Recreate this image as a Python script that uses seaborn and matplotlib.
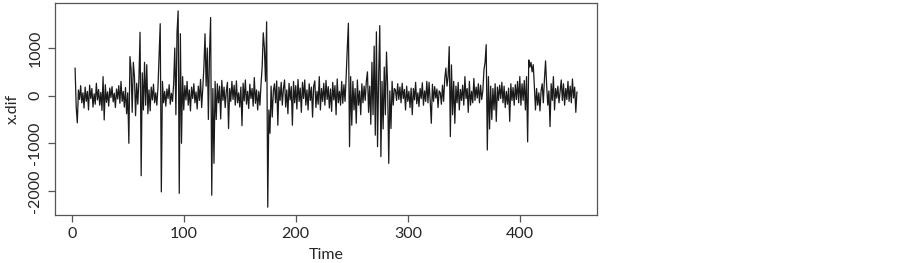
import matplotlib
matplotlib.use("Agg")
import matplotlib.pyplot as plt
import numpy as np
import pandas as pd
import seaborn as sns

# differenced series (first point at t = 3)
x_dif = [
    580, -240, -570, 120, -80, 210, -150, 60, -260, 180,
    -120, 90, -300, 220, -60, 150, -240, 40, -180, 260,
    -90, 130, -200, 70, -310, 400, -510, 230, -140, 80,
    -220, 160, -40, 190, -130, 50, -250, 140, -70, 210,
    -160, 300, -120, 90, -240, 170, -380, 60,
    -1000, 820, 560, -350, 700, 400, -420, 260, -180, 350,
    1330, -1680, 480, -300, 700, -200, 650, -380, 120, -320,
    180, -90, 240, -150, 60, -200, 170, 820, 1510, -2020,
    300, -150, 90, -220, 140, -60, 230, -180, 50, -120,
    260, 1000, -400, 1320, 1780, -2050, 1300, -1000, 400, -300,
    210, -90, 300, -200, 120, -320, 180, -60, 250, -150,
    80, -280, 200, -100, 340, -250, 150, 600, 1300, 200,
    1000, -500, 900, 1640, -2090, 150, -1420, 300, -500, 250,
    -150, 200, -490, 320, -100, 180, -250, 90, 280, -690,
    150, -120, 300, -80, 220, -200, 310, -150, 60, -240,
    180, -630, 260, -110, 330, -180, 90, -270, 240, -60,
    150, -220, 380, -160, 120, -300, 90, -200, 240, 600,
    1320, 1000, 300, 1550, -2340, -300, -790, 200, -450, 100,
    250, -150, 310, -620, 180, -100, 280, -200, 150, 330,
    -240, 120, -380, 260, -90, 190, -620, 300, -150, 210,
    -280, 340, -120, 160, -350, 280, -60, 330, -200, 120,
    -300, 250, -100, 180, -450, 200, 310, -250, 90, -180,
    400, -300, 150, -120, 260, -200, 320, -80, 190, -260,
    140, -330, 280, -90, 210, -400, 350, -150, 90, -200,
    300, -160, 230, -120, 400, 1000, 1520, -1070, 400, -620,
    300, -300, 150, -580, 330, -200, 100, -400, 250, -150,
    200, -100, 300, 500, -350, 200, -600, 700, -400, 1040,
    -830, 1340, -1070, 400, 1470, -1280, 300, -700, 600, -400,
    915, 200, -1420, 100, -690, 300, -200, 150, 120, -100,
    250, -80, 180, -150, 260, -60, 130, -300, 200, -120,
    90, -250, 160, -400, 150, -90, 280, -170, 60, -230,
    150, -60, 270, -200, 100, -120, 300, -150, 280, -100,
    -580, 240, -120, 190, -50, 140, -250, 100, 60, -180,
    220, -120, 350, 580, 200, 400, 1030, -860, 645, -400,
    300, -580, 200, -150, 280, -300, 130, -100, 220, -200,
    400, -60, 150, -350, 300, -200, 90, -150, 360, -100,
    180, -50, 250, -150, 220, -80, 100, 540, 700, 1070,
    -1140, 400, -700, 200, -500, 150, -300, 250, -540, 180,
    -100, 220, -60, 280, -150, 200, -250, 90, -180, 160,
    -540, 250, -100, 170, -200, 230, -80, 300, -150, 400,
    -200, 250, -100, 320, -300, 400, -970, 750, 600, 700,
    500, 650, 200, -300, 150, -200, 60, -320, 100, 250,
    -150, 350, 730, 200, -200, 100, -650, 250, -100, 400,
    -300, 150, -50, 200, -150, 100, 330, -100, 250, -200,
    150, -80, 300, -120, 200, -150, 350, -50, 180, -350, 80,
]
time = np.arange(3, 3 + len(x_dif))
x_ticks = [0, 100, 200, 300, 400]
y_ticks = [-2000, -1000, 0, 1000]

df = pd.DataFrame({"Time": time, "x.dif": x_dif})

sns.set_style("ticks")
plt.rcParams['font.family'] = ['Lato', 'DejaVu Sans']

fig = plt.figure(figsize=(9.03, 2.63), dpi=100)
ax = fig.add_axes([55 / 903, 1 - 215 / 263, 542 / 903, 212 / 263])

sns.lineplot(data=df, x="Time", y="x.dif", ax=ax, color='#1a1a1a', linewidth=0.9)

# R-style 4% padding
pad_x = 0.04 * (time.max() - time.min())
ax.set_xlim(time.min() - pad_x, time.max() + pad_x)
ymin, ymax = min(x_dif), max(x_dif)
pad_y = 0.04 * (ymax - ymin)
ax.set_ylim(ymin - pad_y, ymax + pad_y)

ax.set_xticks(x_ticks)
ax.set_yticks(y_ticks)
ax.set_yticklabels([str(v) for v in y_ticks], rotation=90, va='center')
ax.tick_params(axis='both', labelsize=11.5, length=5, width=0.9, color='#555555', pad=4)
ax.set_xlabel('Time', fontsize=11.5, labelpad=5)
ax.set_ylabel('x.dif', fontsize=11.5, labelpad=6)
for s in ax.spines.values():
    s.set_visible(True)
    s.set_color('#555555')
    s.set_linewidth(0.9)

fig.savefig('out.png', dpi=100)
